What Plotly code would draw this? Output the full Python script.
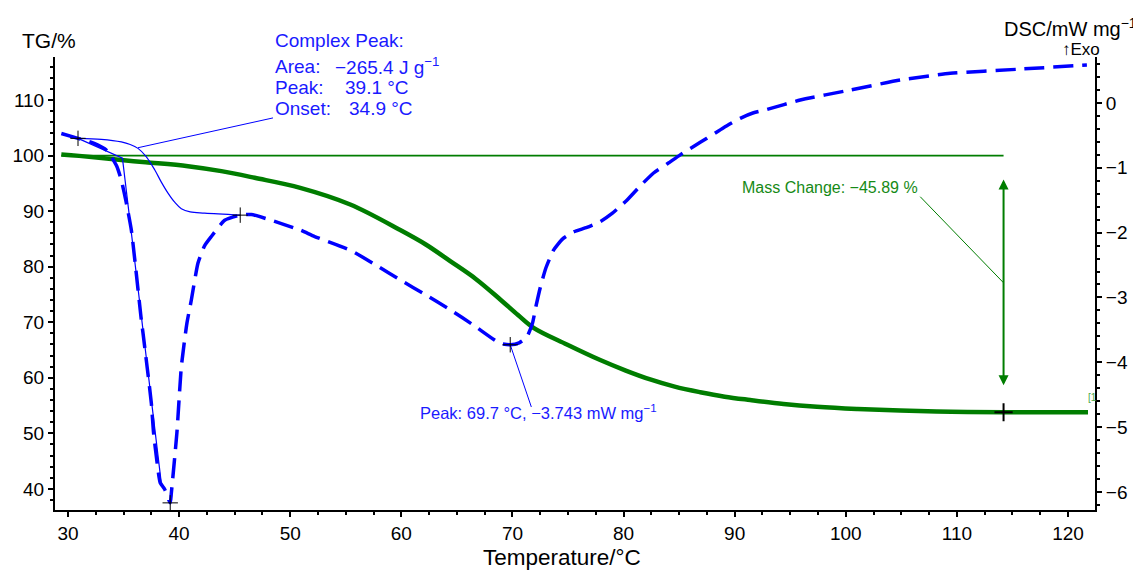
import plotly.graph_objects as go

# TG curve (left axis, %)
tg_temp = [29.4, 31.0, 34.8, 37.0, 40.8, 43.8, 46.8, 50.9, 55.4, 59.9, 62.2, 64.4, 66.7, 68.9,
           70.5, 71.9, 74.9, 77.9, 80.2, 82.4, 84.6, 86.9, 89.1, 91.4, 94.4, 97.4, 101.0,
           104.9, 109.5, 114.2, 121.8]
tg_mass = [100.2, 99.95, 99.2, 98.8, 98.1, 97.2, 96.0, 94.2, 91.2, 86.6, 84.0, 81.0, 77.8, 74.1,
           71.3, 69.0, 66.0, 63.2, 61.3, 59.7, 58.4, 57.4, 56.6, 56.0, 55.3, 54.8, 54.4,
           54.1, 53.9, 53.8, 53.8]

# DSC curve (right axis, mW/mg)
dsc_temp = [29.4, 30.9, 32.0, 32.7, 33.4, 33.9, 34.4, 34.8, 35.2, 35.7, 36.6, 36.75,
            37.5, 37.7, 38.1, 38.3, 38.7, 39.2, 39.3, 39.8, 40.2, 40.7, 41.1, 41.7,
            42.3, 42.9, 44.1, 45.5, 46.5, 48.3, 50.9, 52.2, 55.4, 57.7, 59.9, 62.2,
            64.4, 66.6, 68.9, 69.8, 70.6, 71.3, 71.8, 72.1, 72.5, 73.0, 73.7, 74.5,
            75.5, 76.7, 77.9, 79.0, 80.3, 81.5, 82.7, 84.0, 85.1, 86.3, 87.5, 89.0,
            90.5, 91.7, 92.9, 95.9, 100.4, 104.9, 109.4, 115.4, 121.7]
dsc_value = [-0.47, -0.545, -0.60, -0.65, -0.72, -0.83, -0.98, -1.19, -1.50, -1.96, -3.35, -3.55,
             -4.63, -5.09, -5.66, -5.86, -5.96, -6.17, -6.02, -5.09, -4.07, -3.40, -3.04, -2.47,
             -2.20, -2.06, -1.81, -1.73, -1.72, -1.81, -1.96, -2.06, -2.27, -2.50, -2.73, -2.96,
             -3.19, -3.44, -3.71, -3.73, -3.70, -3.61, -3.40, -3.15, -2.85, -2.55, -2.27, -2.10,
             -1.99, -1.92, -1.83, -1.70, -1.50, -1.28, -1.08, -0.93, -0.80, -0.67, -0.545, -0.38,
             -0.236, -0.15, -0.10, 0.046, 0.20, 0.355, 0.458, 0.52, 0.586]

# peak integration baseline and onset construction
base_temp = [30.9, 33.0, 34.8, 35.6, 36.3, 37.0, 37.8, 38.4, 39.0, 39.6, 40.2, 41.0, 42.3, 45.5]
base_value = [-0.545, -0.56, -0.60, -0.64, -0.70, -0.82, -1.03, -1.22, -1.39, -1.53, -1.63, -1.68, -1.70, -1.73]
onset_temp = [30.9, 34.9, 38.4]
onset_value = [-0.545, -0.85, -5.87]

# marked points
dsc_mark_temp = [30.9, 39.2, 45.5, 69.8]
dsc_mark_value = [-0.545, -6.17, -1.73, -3.73]
tg_mark_temp = [114.2]
tg_mark_value = [53.8]

# mass-change step and leader lines
step_temp = [29.4, 114.2]
step_level = [100.0, 100.0]
arrow_temp = 114.2
arrow_top, arrow_bottom = 95.7, 58.4
mass_lead_temp = [106.7, 114.2]
mass_lead_value = [92.6, 77.1]
cpeak_lead_temp = [48.45, 36.3]
cpeak_lead_value = [-0.23, -0.69]
peak2_lead_temp = [69.8, 71.7]
peak2_lead_value = [-3.73, -4.69]

FONT = "Liberation Sans, Arial, Helvetica, sans-serif"
BLUE = "#0000ff"
TXT_BLUE = "#1a1aff"
GREEN = "#007d00"
TXT_GREEN = "#168a16"

# the page body adds an 8px offset, so the figure is drawn 8px smaller
W, H = 1141, 570
OFF = 8
ML, MR, MT, MB = 55, 46, 57, 60


def px(x):
    return (x - ML) / (W - ML - MR)


def py(y):
    return (H - MB - y) / (H - MT - MB)


fig = go.Figure()

fig.add_trace(go.Scatter(x=step_temp, y=step_level, mode="lines",
                         line=dict(color=GREEN, width=1.8), yaxis="y"))
fig.add_trace(go.Scatter(x=tg_temp, y=tg_mass, mode="lines",
                         line=dict(color=GREEN, width=4.5, shape="spline", smoothing=1), yaxis="y"))
fig.add_trace(go.Scatter(x=mass_lead_temp, y=mass_lead_value, mode="lines",
                         line=dict(color=GREEN, width=1), yaxis="y"))

fig.add_trace(go.Scatter(x=base_temp, y=base_value, mode="lines",
                         line=dict(color=BLUE, width=1.2, shape="spline"), yaxis="y2"))
fig.add_trace(go.Scatter(x=onset_temp, y=onset_value, mode="lines",
                         line=dict(color=BLUE, width=1.2), yaxis="y2"))
fig.add_trace(go.Scatter(x=dsc_temp, y=dsc_value, mode="lines",
                         line=dict(color=BLUE, width=3.5, dash="20px,9px", shape="spline", smoothing=0.5),
                         yaxis="y2"))
fig.add_trace(go.Scatter(x=cpeak_lead_temp, y=cpeak_lead_value, mode="lines",
                         line=dict(color=BLUE, width=1), yaxis="y2"))
fig.add_trace(go.Scatter(x=peak2_lead_temp, y=peak2_lead_value, mode="lines",
                         line=dict(color=BLUE, width=1), yaxis="y2"))

fig.add_trace(go.Scatter(x=dsc_mark_temp, y=dsc_mark_value, mode="markers",
                         marker=dict(symbol="cross-thin", size=11, line=dict(color="black", width=1)),
                         yaxis="y2"))
fig.add_trace(go.Scatter(x=tg_mark_temp, y=tg_mark_value, mode="markers",
                         marker=dict(symbol="cross-thin", size=13, line=dict(color="black", width=2)),
                         yaxis="y"))


def label(x, y, text, size, color, anchor="left"):
    return dict(x=px(x), y=py(y), xref="paper", yref="paper", xanchor=anchor, yanchor="middle",
                text=text, showarrow=False, font=dict(size=size, color=color))


annotations = [
    # double-headed mass change arrow
    dict(x=arrow_temp, y=arrow_top, ax=arrow_temp, ay=arrow_bottom, xref="x", yref="y",
         axref="x", ayref="y", showarrow=True, arrowhead=2, arrowsize=1, arrowwidth=2,
         arrowcolor=GREEN, arrowside="end+start", text=""),
    label(920, 187, "Mass Change: \u221245.89 %", 16, TXT_GREEN, "right"),
    label(1086, 397, "[1", 10, "#4aa84a"),
    label(418, 412, "Peak: 69.7 \u00b0C, \u22123.743 mW mg<sup>\u22121</sup>", 16.5, TXT_BLUE),
    label(273, 40, "Complex Peak:", 19, TXT_BLUE),
    label(273, 66, "Area:", 19, TXT_BLUE),
    label(333, 66, "\u2212265.4 J g<sup>\u22121</sup>", 19, TXT_BLUE),
    label(273, 87, "Peak:", 19, TXT_BLUE),
    label(343, 87, "39.1 \u00b0C", 19, TXT_BLUE),
    label(273, 108, "Onset:", 19, TXT_BLUE),
    label(347, 108, "34.9 \u00b0C", 19, TXT_BLUE),
    # axis titles
    label(20, 40, "TG/%", 21, "black"),
    label(1002, 28, "DSC/mW mg<sup>\u22121</sup>", 20, "black"),
    label(1060, 50, "\u2191Exo", 17, "black"),
    label(562, 557, "Temperature/\u00b0C", 22.5, "black", "center"),
]

fig.update_layout(
    width=W - OFF, height=H - OFF,
    margin=dict(l=ML - OFF, r=MR, t=MT - OFF, b=MB, autoexpand=False),
    paper_bgcolor="white", plot_bgcolor="white",
    showlegend=False,
    font=dict(family=FONT, size=19, color="black"),
    annotations=annotations,
    xaxis=dict(range=[28.83, 122.43], dtick=10, tick0=0, showgrid=False, zeroline=False,
               showline=True, linecolor="black", linewidth=2, ticks="outside", ticklen=5,
               tickwidth=1.5, tickcolor="black", automargin=False,
               minor=dict(dtick=2.5, tick0=0, ticks="outside", ticklen=3, tickcolor="black", showgrid=False)),
    yaxis=dict(range=[36.2, 117.75], dtick=10, tick0=0, showgrid=False, zeroline=False,
               showline=True, linecolor="black", linewidth=2, ticks="outside", ticklen=5,
               tickwidth=1.5, tickcolor="black", automargin=False,
               minor=dict(dtick=2, tick0=0, ticks="outside", ticklen=3, tickcolor="black", showgrid=False)),
    yaxis2=dict(range=[-6.28, 0.71], dtick=1, tick0=0, overlaying="y", side="right",
                showgrid=False, zeroline=False, showline=True, linecolor="black", linewidth=2,
                ticks="outside", ticklen=5, tickwidth=1.5, tickcolor="black", automargin=False,
                minor=dict(dtick=0.2, tick0=0, ticks="outside", ticklen=3, tickcolor="black", showgrid=False)),
)

fig.write_html("out.html")
